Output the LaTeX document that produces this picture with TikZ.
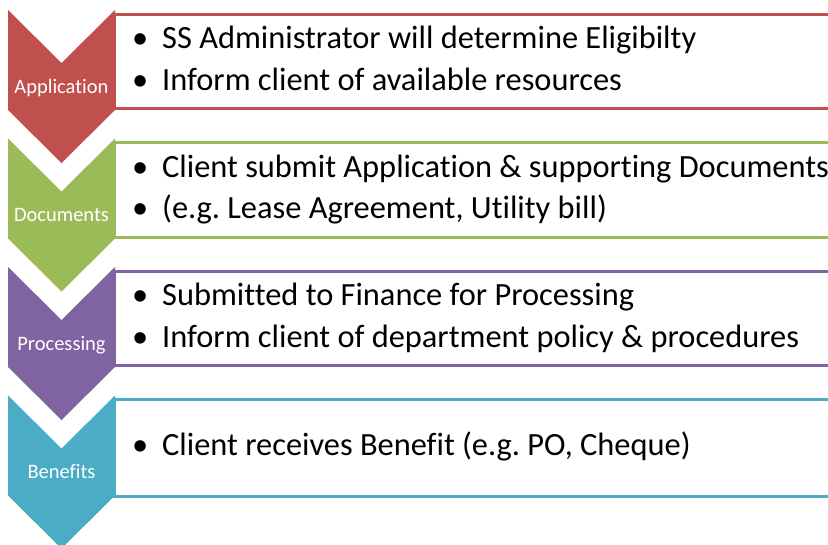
\documentclass[tikz,border=0pt]{standalone}
\usepackage{fontspec}
\setmainfont[Ligatures=NoCommon]{Carlito}
\frenchspacing

\definecolor{appred}{HTML}{C0504D}
\definecolor{docgreen}{HTML}{9BBB59}
\definecolor{procpurple}{HTML}{8064A2}
\definecolor{benteal}{HTML}{4BACC6}
\newcommand{\bul}[1]{\llap{\textbullet\hspace{14pt}}#1}

\begin{document}
\begin{tikzpicture}[x=1pt,y=-1pt,
        stagelabel/.style={anchor=base,text=white,inner sep=0pt,font=\fontsize{20.5}{24}\selectfont},
        itemtext/.style={anchor=base west,inner sep=0pt,font=\fontsize{32.4}{40}\selectfont},
        stagebox/.style={line width=3pt,fill=white}]
        \useasboundingbox (0,0) rectangle (828,544);
        \clip (0,0) rectangle (828,544);
        \fill[white] (0,0) rectangle (828,544);
        % chevrons
        \foreach \t/\col in {10/appred,138.5/docgreen,267/procpurple,395.5/benteal}{
            \fill[\col] (8,\t) -- (61.5,\t+53) -- (115,\t) -- (115,\t+100)
                -- (61.5,\t+153) -- (8,\t+100) -- cycle;
        }
        % boxes
        \draw[appred,stagebox] (114.5,14) rectangle (840,108);
        \draw[docgreen,stagebox] (114.5,142.5) rectangle (840,237);
        \draw[procpurple,stagebox] (114.5,271) rectangle (840,365.5);
        \draw[benteal,stagebox] (114.5,399.5) rectangle (840,496);
        % labels
        \node[stagelabel] (application) at (61.5,93) {Application};
        \node[stagelabel] (documents) at (61.5,221.5) {Documents};
        \node[stagelabel] (processing) at (61.5,350) {Processing};
        \node[stagelabel] (benefits) at (61.5,478.5) {Benefits};
        % bullet text
        \node[itemtext] (app1) at (162,48) {\bul{SS Administrator will determine Eligibilty}};
        \node[itemtext] (app2) at (162,90) {\bul{Inform client of available resources}};
        \node[itemtext] (doc1) at (162,177) {\bul{Client submit Application \& supporting Documents}};
        \node[itemtext] (doc2) at (162,218.5) {\bul{(e.g. Lease Agreement, Utility bill)}};
        \node[itemtext] (proc1) at (162,305.5) {\bul{Submitted to Finance for Processing}};
        \node[itemtext] (proc2) at (162,347) {\bul{Inform client of department policy \& procedures}};
        \node[itemtext] (ben1) at (162,455) {\bul{Client receives Benefit (e.g. PO, Cheque)}};
\end{tikzpicture}
\end{document}
